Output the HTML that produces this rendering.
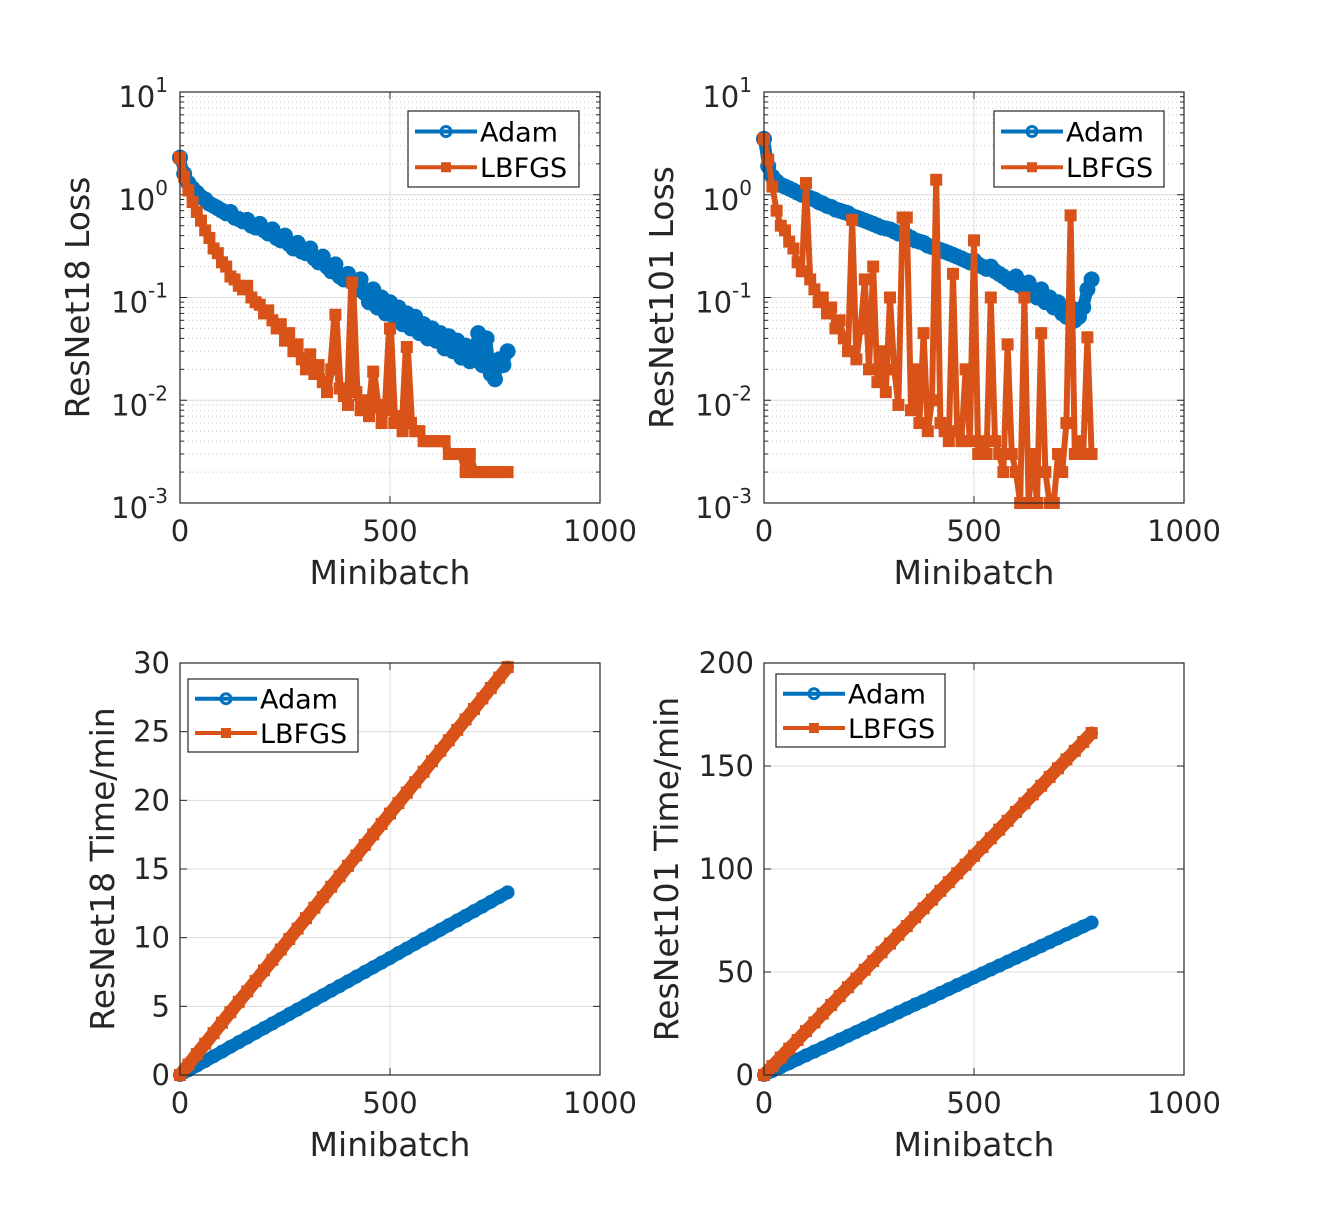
<!DOCTYPE html>
<html><head><meta charset="utf-8"><style>
html,body{margin:0;padding:0;background:#fff;}
svg{display:block;font-family:"DejaVu Sans","Liberation Sans",sans-serif;}
</style></head><body>
<svg id="fig" width="1327" height="1208" viewBox="0 0 1327 1208" xmlns="http://www.w3.org/2000/svg">
<rect width="1327" height="1208" fill="#fff"/>
</svg>
<script>
// ---- data ----
const xLoss = [0,10,20,30,40,50,60,70,80,90,100,110,120,130,140,150,160,170,180,190,200,210,220,230,240,250,260,270,280,290,300,310,320,330,340,350,360,370,380,390,400,410,420,430,440,450,460,470,480,490,500,510,520,530,540,550,560,570,580,590,600,610,620,630,640,650,660,670,680,690,700,710,720,730,740,750,760,770,780];
const r18Adam = [2.3,1.6,1.3,1.15,1.05,0.95,0.9,0.82,0.78,0.74,0.7,0.66,0.68,0.6,0.58,0.55,0.57,0.5,0.48,0.52,0.45,0.42,0.46,0.38,0.36,0.4,0.33,0.3,0.34,0.28,0.27,0.3,0.24,0.22,0.25,0.2,0.18,0.21,0.16,0.15,0.17,0.14,0.12,0.15,0.11,0.09,0.12,0.08,0.1,0.07,0.09,0.065,0.08,0.055,0.07,0.05,0.065,0.045,0.055,0.04,0.05,0.038,0.045,0.032,0.042,0.03,0.038,0.026,0.034,0.024,0.03,0.045,0.022,0.04,0.018,0.016,0.025,0.022,0.03];
const r18Lbfgs = [2.3,1.5,1.1,0.85,0.68,0.56,0.45,0.38,0.3,0.27,0.22,0.2,0.16,0.15,0.13,0.12,0.13,0.1,0.09,0.085,0.07,0.075,0.06,0.05,0.055,0.038,0.045,0.03,0.035,0.025,0.02,0.028,0.018,0.022,0.015,0.012,0.02,0.068,0.013,0.011,0.009,0.14,0.012,0.008,0.01,0.007,0.019,0.009,0.006,0.008,0.05,0.006,0.007,0.005,0.033,0.006,0.005,0.005,0.004,0.004,0.004,0.004,0.004,0.004,0.003,0.003,0.003,0.003,0.002,0.003,0.002,0.002,0.002,0.002,0.002,0.002,0.002,0.002,0.002];
const r101Adam = [3.5,1.9,1.5,1.35,1.25,1.2,1.15,1.1,1.05,1.0,0.97,0.93,0.9,0.85,0.82,0.78,0.76,0.72,0.7,0.68,0.66,0.62,0.6,0.58,0.56,0.54,0.52,0.5,0.48,0.47,0.46,0.44,0.42,0.41,0.4,0.38,0.36,0.35,0.34,0.32,0.31,0.3,0.29,0.28,0.27,0.26,0.25,0.24,0.23,0.22,0.23,0.21,0.2,0.19,0.2,0.18,0.17,0.16,0.15,0.14,0.16,0.13,0.12,0.14,0.11,0.1,0.12,0.09,0.1,0.08,0.09,0.07,0.065,0.08,0.06,0.065,0.08,0.12,0.15];
const r101Lbfgs = [3.5,2.2,1.2,0.7,0.5,0.45,0.35,0.3,0.22,0.18,1.3,0.15,0.12,0.09,0.1,0.07,0.08,0.05,0.06,0.04,0.03,0.57,0.025,0.05,0.15,0.02,0.2,0.015,0.03,0.012,0.1,0.02,0.009,0.6,0.6,0.008,0.02,0.006,0.045,0.005,0.01,1.4,0.006,0.005,0.004,0.17,0.005,0.004,0.02,0.004,0.36,0.003,0.004,0.003,0.1,0.004,0.003,0.002,0.035,0.003,0.002,0.001,0.1,0.001,0.003,0.001,0.045,0.002,0.001,0.001,0.003,0.002,0.006,0.63,0.003,0.004,0.003,0.041,0.003];
const xTime = [0,20,40,60,80,100,120,140,160,180,200,220,240,260,280,300,320,340,360,380,400,420,440,460,480,500,520,540,560,580,600,620,640,660,680,700,720,740,760,780];
const t18Adam = [0,0.34,0.68,1.02,1.36,1.7,2.05,2.39,2.73,3.07,3.41,3.75,4.09,4.43,4.77,5.11,5.46,5.8,6.14,6.48,6.82,7.16,7.5,7.84,8.18,8.52,8.87,9.21,9.55,9.89,10.23,10.57,10.91,11.25,11.59,11.93,12.27,12.61,12.96,13.3];
const t18Lbfgs = [0,0.76,1.52,2.28,3.05,3.81,4.57,5.33,6.09,6.85,7.62,8.38,9.14,9.9,10.66,11.42,12.18,12.95,13.71,14.47,15.23,15.99,16.75,17.52,18.28,19.04,19.8,20.56,21.32,22.08,22.85,23.61,24.37,25.13,25.89,26.65,27.42,28.18,28.94,29.7];
const t101Adam = [0,1.9,3.8,5.7,7.6,9.5,11.4,13.3,15.2,17.1,19.0,20.9,22.8,24.7,26.6,28.5,30.4,32.3,34.2,36.0,37.9,39.8,41.7,43.6,45.5,47.4,49.3,51.2,53.1,55.0,56.9,58.8,60.7,62.6,64.5,66.4,68.3,70.2,72.1,74.0];
const t101Lbfgs = [0,4.3,8.5,12.8,17.0,21.3,25.5,29.8,34.0,38.3,42.6,46.8,51.1,55.3,59.6,63.8,68.1,72.3,76.6,80.9,85.1,89.4,93.6,97.9,102.1,106.4,110.6,114.9,119.1,123.4,127.7,131.9,136.2,140.4,144.7,148.9,153.2,157.4,161.7,166.0];
const xTicks = [0,500,1000];
const logTicks = [-3,-2,-1,0,1];
const t18Ticks = [0,5,10,15,20,25,30];
const t101Ticks = [0,50,100,150,200];

const NS = "http://www.w3.org/2000/svg";
const svg = document.getElementById('fig');
const BLUE = "#0072BD", ORANGE = "#D95319", AX = "#262626";
function mk(tag, attrs, parent){
  const e = document.createElementNS(NS, tag);
  for (const k in attrs) e.setAttribute(k, attrs[k]);
  (parent||svg).appendChild(e);
  return e;
}

function panel(p){
  const g = mk('g', {});
  
  
  const L=p.x0, R=p.x1, T=p.y0, B=p.y1;
  const sx = v => L + (v-0)/(1000-0)*(R-L);
  const sy = p.log ? (v => B - (Math.log10(v)-p.ymin)/(p.ymax-p.ymin)*(B-T))
                   : (v => B - (v-p.ymin)/(p.ymax-p.ymin)*(B-T));
  if (p.log){
    for (let d=p.ymin; d<p.ymax; d++){
      for (let m=2; m<=9; m++){
        const y = sy(m*Math.pow(10,d));
        mk('line',{x1:L,x2:R,y1:y,y2:y,stroke:'#c8c8c8','stroke-width':1,'stroke-dasharray':'1,3'},g);
        mk('line',{x1:L,x2:L+4,y1:y,y2:y,stroke:AX,'stroke-width':1},g);
        mk('line',{x1:R,x2:R-4,y1:y,y2:y,stroke:AX,'stroke-width':1},g);
      }
    }
  }
  p.ticks.forEach(t=>{
    const y = p.log ? sy(Math.pow(10,t)) : sy(t);
    mk('line',{x1:L,x2:R,y1:y,y2:y,stroke:'#dcdcdc','stroke-width':1},g);
    mk('line',{x1:L,x2:L+7,y1:y,y2:y,stroke:AX,'stroke-width':1},g);
    mk('line',{x1:R,x2:R-7,y1:y,y2:y,stroke:AX,'stroke-width':1},g);
    if (p.log){
      const tx = mk('text',{x:p.x0-12,y:y+15,'text-anchor':'end','font-size':29,fill:AX},g);
      
      
      const a = document.createElementNS(NS,'tspan'); a.textContent='10'; tx.appendChild(a);
      const b = document.createElementNS(NS,'tspan'); b.setAttribute('dy','-15'); b.setAttribute('font-size','20'); b.textContent=String(t); tx.appendChild(b);
    } else {
      const tx = mk('text',{x:p.x0-10,y:y+10,'text-anchor':'end','font-size':29,fill:AX},g);
      
      
      tx.textContent = String(t);
    }
  });
  xTicks.forEach(t=>{
    const x = sx(t);
    mk('line',{x1:x,x2:x,y1:T,y2:B,stroke:'#dcdcdc','stroke-width':1},g);
    mk('line',{x1:x,x2:x,y1:B,y2:B-7,stroke:AX,'stroke-width':1},g);
    mk('line',{x1:x,x2:x,y1:T,y2:T+7,stroke:AX,'stroke-width':1},g);
    const tx = mk('text',{x:x,y:B+38,'text-anchor':'middle','font-size':29,fill:AX},g);
    
    
    tx.textContent = String(t);
  });
  function series(xs, ys, color, square, nm, lw, ms){
    const sg = mk('g',{},g);
    
    
    let d='';
    xs.forEach((xv,i)=>{ d += (i?'L':'M') + sx(xv).toFixed(1) + ' ' + sy(ys[i]).toFixed(1); });
    mk('path',{d:d,fill:'none',stroke:color,'stroke-width':lw,'stroke-linejoin':'round','stroke-linecap':'round'},sg);
    xs.forEach((xv,i)=>{
      const cx = sx(xv), cy = sy(ys[i]);
      if (square) mk('rect',{x:cx-ms,y:cy-ms,width:2*ms,height:2*ms,fill:color},sg);
      else mk('circle',{cx:cx,cy:cy,r:ms+1,fill:color},sg);
    });
  }
  series(p.xs, p.a, BLUE, false, 'adam-series', p.lwA, p.msA);
  series(p.xs, p.b, ORANGE, true, 'lbfgs-series', p.lwB, p.msB);
  mk('rect',{x:L,y:T,width:R-L,height:B-T,fill:'none',stroke:AX,'stroke-width':1.2},g);
  const xl = mk('text',{x:(L+R)/2,y:B+81,'text-anchor':'middle','font-size':33,fill:AX},g);
  
  
  xl.textContent='Minibatch';
  const yl = mk('text',{x:0,y:0,'text-anchor':'middle','font-size':33,fill:AX,transform:`translate(${p.ylx},${(T+B)/2}) rotate(-90)`},g);
  
  
  yl.textContent=p.ylabel;
  const lg = mk('g',{},g);
  
  
  const [lx,ly,lw,lh] = p.leg;
  mk('rect',{x:lx,y:ly,width:lw,height:lh,fill:'#fff',stroke:AX,'stroke-width':1.2},lg);
  [['Adam',BLUE,false],['LBFGS',ORANGE,true]].forEach((e,i)=>{
    const y = ly + lh*(0.27+0.47*i);
    const eg = mk('g',{},lg);
    
    
    mk('line',{x1:lx+7,x2:lx+69,y1:y,y2:y,stroke:e[1],'stroke-width':4},eg);
    if (e[2]) mk('rect',{x:lx+33,y:y-5,width:10,height:10,fill:e[1]},eg);
    else mk('circle',{cx:lx+38,cy:y,r:5,fill:'none',stroke:e[1],'stroke-width':3},eg);
    const t = mk('text',{x:lx+72,y:y+10,'font-size':27,fill:'#000'},eg);
    t.textContent = e[0];
  });
}

panel({name:'resnet18-loss-panel',x0:180,x1:600,y0:92,y1:503,log:true,ymin:-3,ymax:1,ticks:logTicks,xs:xLoss,a:r18Adam,b:r18Lbfgs,ylabel:'ResNet18 Loss',ylx:89,leg:[408,111,171,76],lwA:11,msA:7,lwB:8,msB:6});
panel({name:'resnet101-loss-panel',x0:764,x1:1184,y0:92,y1:503,log:true,ymin:-3,ymax:1,ticks:logTicks,xs:xLoss,a:r101Adam,b:r101Lbfgs,ylabel:'ResNet101 Loss',ylx:673,leg:[994,111,170,76],lwA:12,msA:7,lwB:6,msB:6});
panel({name:'resnet18-time-panel',x0:180,x1:600,y0:663,y1:1075,log:false,ymin:0,ymax:30,ticks:t18Ticks,xs:xTime,a:t18Adam,b:t18Lbfgs,ylabel:'ResNet18 Time/min',ylx:114,leg:[188,679,170,73],lwA:13,msA:6,lwB:13,msB:6});
panel({name:'resnet101-time-panel',x0:764,x1:1184,y0:663,y1:1075,log:false,ymin:0,ymax:200,ticks:t101Ticks,xs:xTime,a:t101Adam,b:t101Lbfgs,ylabel:'ResNet101 Time/min',ylx:678,leg:[776,674,169,73],lwA:13,msA:6,lwB:13,msB:6});
</script>
</body></html>
